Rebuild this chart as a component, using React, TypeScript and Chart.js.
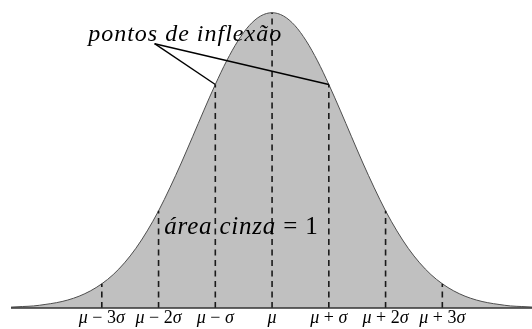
import { useEffect, useRef } from 'react';
import { Chart, registerables } from 'chart.js';

Chart.register(...registerables);

// Bell curve sampled in units of σ (heights relative to the peak)
const CURVE_X = [
  -4.6, -4.4, -4.2, -4.0, -3.8, -3.6, -3.4, -3.2, -3.0, -2.8, -2.6, -2.4,
  -2.2, -2.0, -1.8, -1.6, -1.4, -1.2, -1.0, -0.8, -0.6, -0.4, -0.2, 0.0,
  0.2, 0.4, 0.6, 0.8, 1.0, 1.2, 1.4, 1.6, 1.8, 2.0, 2.2, 2.4,
  2.6, 2.8, 3.0, 3.2, 3.4, 3.6, 3.8, 4.0, 4.2, 4.4, 4.6,
];
const CURVE_Y = [
  0.003, 0.005, 0.007, 0.012, 0.018, 0.027, 0.040, 0.058, 0.082, 0.113, 0.153, 0.202,
  0.261, 0.329, 0.407, 0.491, 0.580, 0.670, 0.757, 0.837, 0.905, 0.957, 0.989, 1.0,
  0.989, 0.957, 0.905, 0.837, 0.757, 0.670, 0.580, 0.491, 0.407, 0.329, 0.261, 0.202,
  0.153, 0.113, 0.082, 0.058, 0.040, 0.027, 0.018, 0.012, 0.007, 0.005, 0.003,
];

// Dashed markers and their labels under the axis
const MARK_X = [-3, -2, -1, 0, 1, 2, 3];
const MARK_LABELS = ['μ − 3σ', 'μ − 2σ', 'μ − σ', 'μ', 'μ + σ', 'μ + 2σ', 'μ + 3σ'];

// Inflection points the callout points at
const INFLECTION_X = [-1, 1];

const CALLOUT_TEXT = 'pontos de inflexão';
const AREA_TEXT = 'área cinza = 1';

// Layout (data coordinates)
const X_MIN = -4.6;
const X_MAX = 4.58;
const Y_MAX = 1.043;
const CALLOUT_ANCHOR = { x: -2.07, y: 0.895 };
const CALLOUT_TEXT_POS = { x: -3.24, y: 0.905 };
const AREA_TEXT_POS = { x: -1.9, y: 0.252 };

const heightAt = (x: number) =>
  CURVE_Y[CURVE_X.findIndex((v) => Math.abs(v - x) < 1e-6)];

type Run = { t: string; it: boolean };

// Letters are set in italic (math style), digits and operators upright
function splitRuns(text: string): Run[] {
  const runs: Run[] = [];
  for (const ch of text) {
    const isSpace = ch === ' ';
    const it = /\p{L}/u.test(ch);
    const last = runs[runs.length - 1];
    if (last && (isSpace || last.it === it)) last.t += ch;
    else runs.push({ t: ch, it });
  }
  return runs;
}

function drawMath(
  ctx: CanvasRenderingContext2D,
  text: string,
  size: number,
  x: number,
  y: number,
  align: 'left' | 'center',
  spacing = 0
) {
  const runs = splitRuns(text);
  const fontFor = (it: boolean) =>
    `${it ? 'italic ' : ''}${size}px "Liberation Serif", "DejaVu Serif", serif`;
  (ctx as any).letterSpacing = `${spacing}px`;
  const widths = runs.map((r) => {
    ctx.font = fontFor(r.it);
    return ctx.measureText(r.t).width;
  });
  const total = widths.reduce((a, b) => a + b, 0);
  let cx = align === 'center' ? x - total / 2 : x;
  ctx.textAlign = 'left';
  ctx.textBaseline = 'alphabetic';
  ctx.fillStyle = '#000';
  runs.forEach((r, i) => {
    ctx.font = fontFor(r.it);
    ctx.fillText(r.t, cx, y);
    cx += widths[i];
  });
  (ctx as any).letterSpacing = '0px';
}

const textPlugin = {
  id: 'mathText',
  afterDatasetsDraw(chart: Chart) {
    const { ctx, scales, chartArea } = chart;
    const xs = scales.x;
    const ys = scales.y;
    ctx.save();
    MARK_X.forEach((v, i) => {
      drawMath(ctx, MARK_LABELS[i], 18, xs.getPixelForValue(v), chartArea.bottom + 15, 'center');
    });
    drawMath(
      ctx,
      CALLOUT_TEXT,
      24,
      xs.getPixelForValue(CALLOUT_TEXT_POS.x),
      ys.getPixelForValue(CALLOUT_TEXT_POS.y),
      'left',
      1
    );
    drawMath(
      ctx,
      AREA_TEXT,
      25,
      xs.getPixelForValue(AREA_TEXT_POS.x),
      ys.getPixelForValue(AREA_TEXT_POS.y),
      'left',
      0.8
    );
    ctx.restore();
  },
};

export default function App() {
  const canvasRef = useRef<HTMLCanvasElement | null>(null);

  useEffect(() => {
    const canvas = canvasRef.current;
    if (!canvas) return;

    const lineBase = {
      pointRadius: 0,
      fill: false,
      clip: false as const,
      tension: 0,
    };

    const calloutSets = INFLECTION_X.map((x) => ({
      ...lineBase,
      data: [
        { x: CALLOUT_ANCHOR.x, y: CALLOUT_ANCHOR.y },
        { x, y: heightAt(x) },
      ],
      borderColor: '#000',
      borderWidth: 1.4,
    }));

    const axisSet = {
      ...lineBase,
      data: [
        { x: X_MIN, y: 0 },
        { x: X_MAX, y: 0 },
      ],
      borderColor: '#333',
      borderWidth: 1.6,
    };

    const markSets = MARK_X.map((x) => ({
      ...lineBase,
      data: [
        { x, y: 0 },
        { x, y: heightAt(x) },
      ],
      borderColor: '#1a1a1a',
      borderWidth: 1.6,
      borderDash: [6, 4.5],
    }));

    const curveSet = {
      data: CURVE_X.map((x, i) => ({ x, y: CURVE_Y[i] })),
      pointRadius: 0,
      fill: 'origin',
      backgroundColor: '#c0c0c0',
      borderColor: '#4d4d4d',
      borderWidth: 1,
      cubicInterpolationMode: 'monotone' as const,
      clip: false as const,
    };

    // Earlier datasets are painted on top of later ones
    const chart = new Chart(canvas, {
      type: 'line',
      data: {
        datasets: [...calloutSets, axisSet, ...markSets, curveSet] as any,
      },
      options: {
        animation: false,
        responsive: false,
        events: [],
        layout: { padding: { left: 11, right: 0, top: 0, bottom: 21 } },
        scales: {
          x: { type: 'linear', display: false, min: X_MIN, max: X_MAX },
          y: { type: 'linear', display: false, min: 0, max: Y_MAX },
        },
        plugins: {
          legend: { display: false },
          tooltip: { enabled: false },
        },
      },
      plugins: [textPlugin],
    });

    return () => chart.destroy();
  }, []);

  return (
    <div style={{ position: 'absolute', left: 0, top: 0, width: 532, height: 329, background: '#fff' }}>
      <canvas ref={canvasRef} width={532} height={329} />
    </div>
  );
}
